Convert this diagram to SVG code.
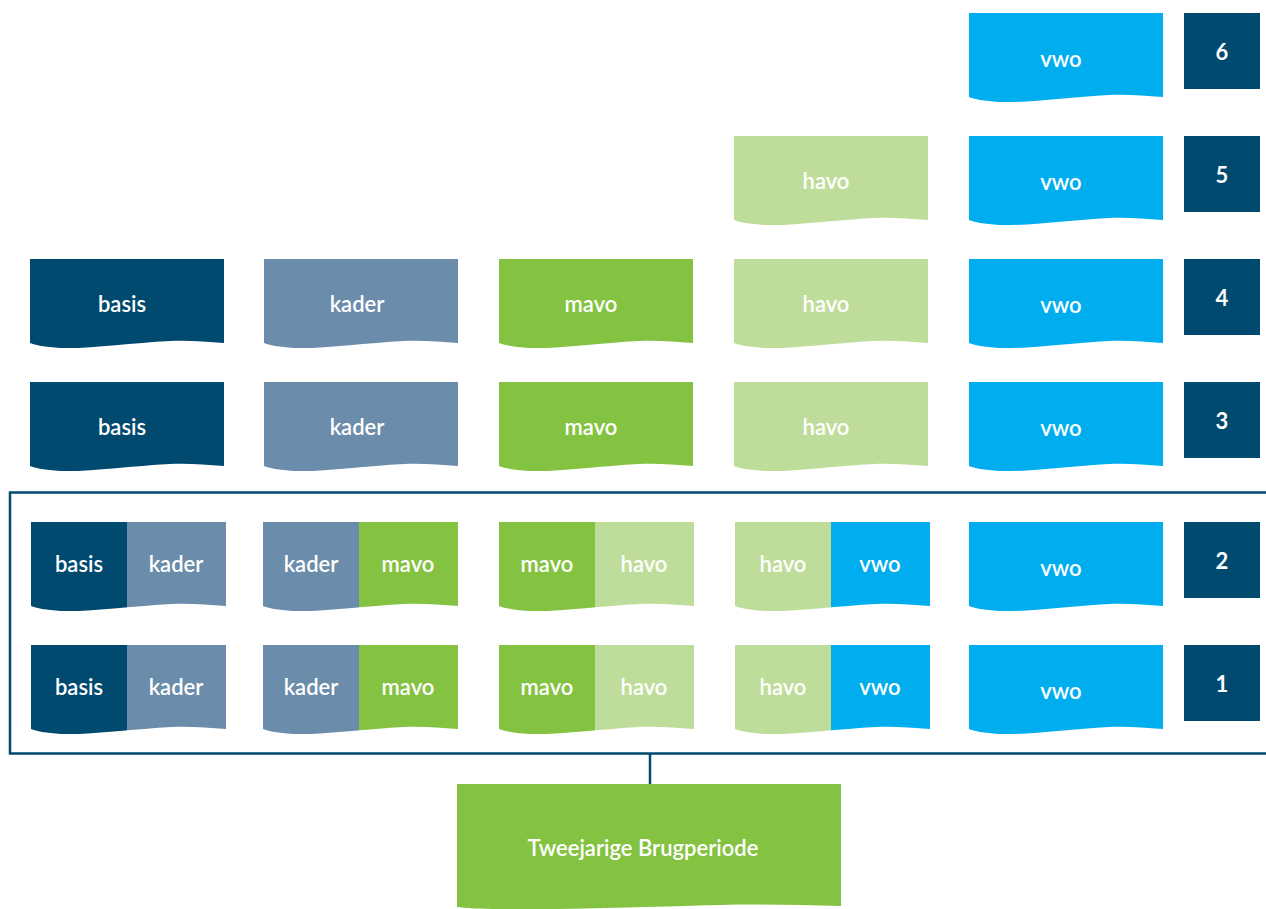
<svg xmlns="http://www.w3.org/2000/svg" xmlns:xlink="http://www.w3.org/1999/xlink" width="1266" height="909" viewBox="0 0 1266 909">
<style>
.lbl{font-family:Lato,"Open Sans","Liberation Sans",sans-serif;font-size:22px;font-weight:600;fill:#ffffff;text-anchor:middle;dominant-baseline:central}
.num{font-family:Lato,"Open Sans","Liberation Sans",sans-serif;font-size:22px;font-weight:700;fill:#ffffff;text-anchor:middle;dominant-baseline:central}
.basis{fill:#004a70}.kader{fill:#6b8cab}.mavo{fill:#84c341}.havo{fill:#bfdd9a}.vwo{fill:#00aeef}.nb{fill:#004a70}
.conn{stroke:#004a70;stroke-width:2.5;fill:none}
</style>
<defs>
<path id="wave" d="M0,0 H194 V84 C175,83 160,81 140,82 C100,84 60,90 30,89 C15,88 5,86 0,84 Z"/>
<path id="wave2" d="M0,0 H195 V84 C176,83 161,81 141,82 C101,84 60,90 30,89 C15,88 5,86 0,84 Z"/>
<clipPath id="clipW"><use xlink:href="#wave2"/></clipPath>
</defs>
<g id="connectors">
<rect class="conn" x="10" y="492.5" width="1270" height="261"/>
<line class="conn" x1="650" y1="754" x2="650" y2="784"/>
</g>
<!-- number boxes -->
<g id="n6"><rect class="nb" x="1184" y="13" width="76" height="76"/><text class="num" x="1222" y="51">6</text></g>
<g id="n5"><rect class="nb" x="1184" y="136" width="76" height="76"/><text class="num" x="1222" y="174">5</text></g>
<g id="n4"><rect class="nb" x="1184" y="259" width="76" height="76"/><text class="num" x="1222" y="297">4</text></g>
<g id="n3"><rect class="nb" x="1184" y="382" width="76" height="76"/><text class="num" x="1222" y="420">3</text></g>
<g id="n2"><rect class="nb" x="1184" y="522" width="76" height="76"/><text class="num" x="1222" y="560">2</text></g>
<g id="n1"><rect class="nb" x="1184" y="645" width="76" height="76"/><text class="num" x="1222" y="683">1</text></g>
<!-- vwo column -->
<g id="vwo6" transform="translate(969,13)"><use xlink:href="#wave" class="vwo"/><text class="lbl" x="92" y="45">vwo</text></g>
<g id="vwo5" transform="translate(969,136)"><use xlink:href="#wave" class="vwo"/><text class="lbl" x="92" y="45">vwo</text></g>
<g id="vwo4" transform="translate(969,259)"><use xlink:href="#wave" class="vwo"/><text class="lbl" x="92" y="45">vwo</text></g>
<g id="vwo3" transform="translate(969,382)"><use xlink:href="#wave" class="vwo"/><text class="lbl" x="92" y="45">vwo</text></g>
<g id="vwo2" transform="translate(969,522)"><use xlink:href="#wave" class="vwo"/><text class="lbl" x="92" y="45">vwo</text></g>
<g id="vwo1" transform="translate(969,645)"><use xlink:href="#wave" class="vwo"/><text class="lbl" x="92" y="45">vwo</text></g>
<!-- havo column -->
<g id="havo5" transform="translate(734,136)"><use xlink:href="#wave" class="havo"/><text class="lbl" x="92" y="44">havo</text></g>
<g id="havo4" transform="translate(734,259)"><use xlink:href="#wave" class="havo"/><text class="lbl" x="92" y="44">havo</text></g>
<g id="havo3" transform="translate(734,382)"><use xlink:href="#wave" class="havo"/><text class="lbl" x="92" y="44">havo</text></g>
<!-- mavo -->
<g id="mavo4" transform="translate(499,259)"><use xlink:href="#wave" class="mavo"/><text class="lbl" x="92" y="44">mavo</text></g>
<g id="mavo3" transform="translate(499,382)"><use xlink:href="#wave" class="mavo"/><text class="lbl" x="92" y="44">mavo</text></g>
<!-- kader -->
<g id="kader4" transform="translate(264,259)"><use xlink:href="#wave" class="kader"/><text class="lbl" x="93" y="44">kader</text></g>
<g id="kader3" transform="translate(264,382)"><use xlink:href="#wave" class="kader"/><text class="lbl" x="93" y="44">kader</text></g>
<!-- basis -->
<g id="basis4" transform="translate(30,259)"><use xlink:href="#wave" class="basis"/><text class="lbl" x="92" y="44">basis</text></g>
<g id="basis3" transform="translate(30,382)"><use xlink:href="#wave" class="basis"/><text class="lbl" x="92" y="44">basis</text></g>
<!-- split boxes row 2 -->
<g id="bk2" transform="translate(31,522)"><g clip-path="url(#clipW)"><rect class="basis" width="96" height="95"/><rect class="kader" x="96" width="99" height="95"/></g><text class="lbl" x="48" y="41">basis</text><text class="lbl" x="145" y="41">kader</text></g>
<g id="km2" transform="translate(263,522)"><g clip-path="url(#clipW)"><rect class="kader" width="96" height="95"/><rect class="mavo" x="96" width="99" height="95"/></g><text class="lbl" x="48" y="41">kader</text><text class="lbl" x="145" y="41">mavo</text></g>
<g id="mh2" transform="translate(499,522)"><g clip-path="url(#clipW)"><rect class="mavo" width="96" height="95"/><rect class="havo" x="96" width="99" height="95"/></g><text class="lbl" x="48" y="41">mavo</text><text class="lbl" x="145" y="41">havo</text></g>
<g id="hv2" transform="translate(735,522)"><g clip-path="url(#clipW)"><rect class="havo" width="96" height="95"/><rect class="vwo" x="96" width="99" height="95"/></g><text class="lbl" x="48" y="41">havo</text><text class="lbl" x="145" y="41">vwo</text></g>
<!-- split boxes row 1 -->
<g id="bk1" transform="translate(31,645)"><g clip-path="url(#clipW)"><rect class="basis" width="96" height="95"/><rect class="kader" x="96" width="99" height="95"/></g><text class="lbl" x="48" y="41">basis</text><text class="lbl" x="145" y="41">kader</text></g>
<g id="km1" transform="translate(263,645)"><g clip-path="url(#clipW)"><rect class="kader" width="96" height="95"/><rect class="mavo" x="96" width="99" height="95"/></g><text class="lbl" x="48" y="41">kader</text><text class="lbl" x="145" y="41">mavo</text></g>
<g id="mh1" transform="translate(499,645)"><g clip-path="url(#clipW)"><rect class="mavo" width="96" height="95"/><rect class="havo" x="96" width="99" height="95"/></g><text class="lbl" x="48" y="41">mavo</text><text class="lbl" x="145" y="41">havo</text></g>
<g id="hv1" transform="translate(735,645)"><g clip-path="url(#clipW)"><rect class="havo" width="96" height="95"/><rect class="vwo" x="96" width="99" height="95"/></g><text class="lbl" x="48" y="41">havo</text><text class="lbl" x="145" y="41">vwo</text></g>
<!-- bottom box -->
<g id="brug"><path class="mavo" d="M457,784 H841 V906 C800,905 760,904 720,905 C640,907 560,910 500,909 C480,909 465,908 457,907 Z"/><text class="lbl" x="643" y="847">Tweejarige Brugperiode</text></g>
</svg>
